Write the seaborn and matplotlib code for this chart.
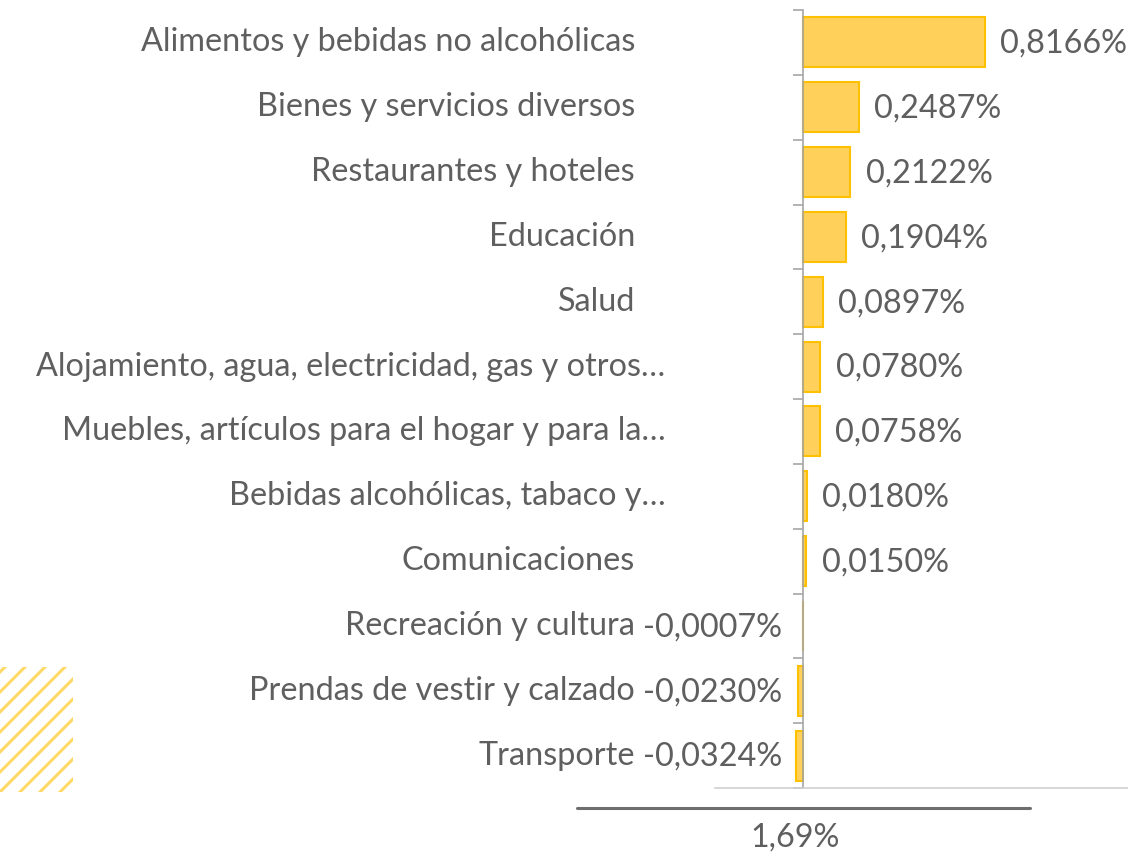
import matplotlib
matplotlib.use('Agg')
import matplotlib.pyplot as plt
import matplotlib.transforms as mtransforms
from matplotlib.lines import Line2D
import seaborn as sns

# data
categories = ['Alimentos y bebidas no alcohólicas', 'Bienes y servicios diversos',
              'Restaurantes y hoteles', 'Educación', 'Salud',
              'Alojamiento, agua, electricidad, gas y otros…',
              'Muebles, artículos para el hogar y para la…',
              'Bebidas alcohólicas, tabaco y…', 'Comunicaciones',
              'Recreación y cultura', 'Prendas de vestir y calzado', 'Transporte']
values = [0.8166, 0.2487, 0.2122, 0.1904, 0.0897, 0.0780, 0.0758,
          0.0180, 0.0150, -0.0007, -0.0230, -0.0324]
total_label = '1,69%'

sns.set_style('white')
plt.rcParams['font.family'] = ['Lato', 'DejaVu Sans']
txt = '#5F5F5F'
fs = 23.3

fig = plt.figure(figsize=(11.28, 8.55), dpi=100)
ax = fig.add_axes([715 / 1128, 67 / 855, 413 / 1128, 778 / 855])

sns.barplot(x=values, y=categories, orient='h', ax=ax, color='#FFD05A',
            edgecolor='#FFC000', linewidth=1.5, width=0.77, saturation=1)

ax.set_xlim(-0.395, 1.457)
ax.set_ylim(11.5, -0.5)
ax.set_xlabel('')
ax.set_ylabel('')
ax.set_xticks([])

# vertical axis at zero with boundary ticks
for s in ['top', 'right']:
    ax.spines[s].set_visible(False)
ax.spines['left'].set_position(('data', 0))
ax.spines['left'].set_color('#A6A6A6')
ax.spines['left'].set_linewidth(1.2)
ax.spines['bottom'].set_color('#D0D0D0')
ax.spines['bottom'].set_linewidth(1.2)
ax.set_yticks([i - 0.5 for i in range(len(categories) + 1)])
ax.set_yticklabels([])
ax.tick_params(axis='y', length=7, width=1.2, color='#A6A6A6', direction='out', left=True)

# category labels
for i, cat in enumerate(categories):
    off = -121 if not cat.endswith('…') else -99
    tr = mtransforms.offset_copy(ax.transData, fig=fig, x=off, y=0, units='points')
    ax.text(0, i, cat, transform=tr, ha='right', va='center', fontsize=fs,
            color=txt, clip_on=False)

# value labels (negatives sit left of the axis, all aligned)
for i, v in enumerate(values):
    s = f'{v:.4f}%'.replace('.', ',')
    if v >= 0:
        tr = mtransforms.offset_copy(ax.transData, fig=fig, x=11, y=-1, units='points')
        ax.text(v, i, s, transform=tr, ha='left', va='center', fontsize=fs,
                color=txt, clip_on=False)
    else:
        tr = mtransforms.offset_copy(ax.transData, fig=fig, x=-15, y=-1, units='points')
        ax.text(0, i, s, transform=tr, ha='right', va='center', fontsize=fs,
                color=txt, clip_on=False)

# total line and label
fig.add_artist(Line2D([577 / 1128, 1030 / 1128], [1 - 808 / 855] * 2,
                      transform=fig.transFigure, color='#6E6E6E', lw=2.2))
fig.text(795 / 1128, 1 - 838 / 855, total_label, ha='center', va='center',
         fontsize=fs, color=txt)

# decorative hatch in lower-left corner
deco = fig.add_axes([0, 63 / 855, 73 / 1128, 125 / 855])
deco.set_xlim(0, 73)
deco.set_ylim(0, 125)
deco.axis('off')
for k in range(-8, 12):
    x0 = k * 20
    deco.plot([x0 - 200, x0 + 200], [-200, 200], color='#FFD966', lw=2.2,
              solid_capstyle='butt')

fig.savefig('out.png', dpi=100)
